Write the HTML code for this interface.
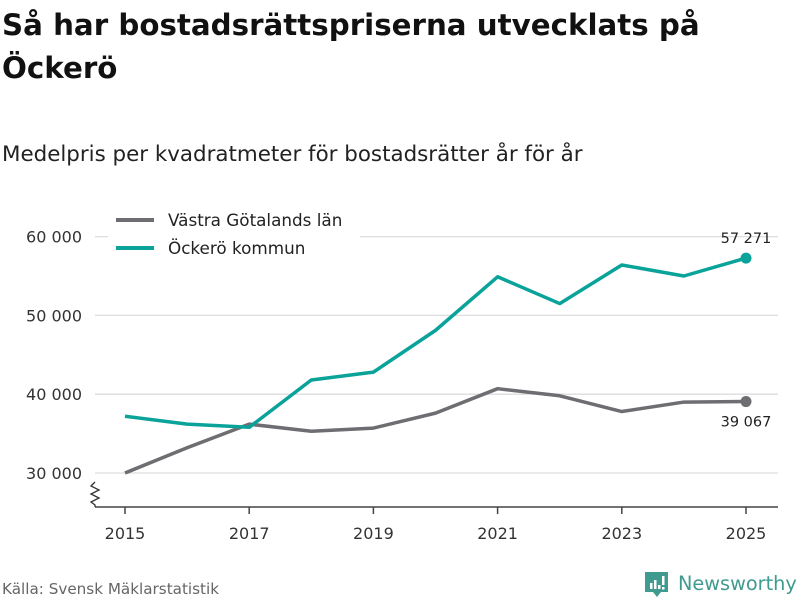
<!DOCTYPE html>
<html><head><meta charset="utf-8"><style>
body{margin:0;width:800px;height:600px;background:#fff;font-family:"Liberation Sans","DejaVu Sans",sans-serif;overflow:hidden}
</style></head><body>
<svg width="800" height="600" xmlns="http://www.w3.org/2000/svg" font-family="'DejaVu Sans','Liberation Sans',sans-serif">
<text x="2" y="35" font-size="29.3" font-weight="bold" fill="#111">Så har bostadsrättspriserna utvecklats på</text>
<text x="2" y="78" font-size="29.3" font-weight="bold" fill="#111">Öckerö</text>
<text x="2" y="161" font-size="21.4" fill="#222">Medelpris per kvadratmeter för bostadsrätter år för år</text>
<g id="grid"></g>
<line x1="95" y1="507" x2="778" y2="507" stroke="#444" stroke-width="1.5"/>
<path d="M95 482 l-4 4 l8 4 l-8 4 l8 4 l-8 4 l4 3 v2" fill="none" stroke="#333" stroke-width="1.3"/>
<g id="series"></g>
<rect x="108" y="205" width="252" height="60" fill="#fff"/>
<line x1="116" y1="220" x2="154" y2="220" stroke="#6e6d72" stroke-width="4"/>
<text x="168" y="226" font-size="16.8" fill="#222">Västra Götalands län</text>
<line x1="116" y1="248" x2="154" y2="248" stroke="#0aa39a" stroke-width="4"/>
<text x="168" y="254" font-size="16.8" fill="#222">Öckerö kommun</text>
<text x="2" y="594" font-size="15.2" fill="#666">Källa: Svensk Mäklarstatistik</text>
<g>
<path d="M645 572 h23 v20 h-7 l-4 5 l-4 -5 h-8 z" fill="#3f9b8f"/>
<rect x="650" y="583" width="2.5" height="6" fill="#fff"/><rect x="654" y="580" width="2.5" height="9" fill="#fff"/><rect x="658" y="585" width="2.5" height="4" fill="#fff"/><rect x="662" y="576" width="2.5" height="9" fill="#fff"/><rect x="662" y="587" width="2.5" height="2.5" fill="#fff"/>
<text x="678" y="590" font-size="19.3" fill="#3f9b8f" font-weight="500">Newsworthy</text>
</g>
</svg>
<script>
const years=[2015,2016,2017,2018,2019,2020,2021,2022,2023,2024,2025];
const vastra=[30000,33200,36200,35300,35700,37600,40700,39800,37800,39000,39067];
const ockero=[37200,36200,35800,41800,42800,48100,54900,51500,56400,55000,57271];
const yTicks=[30000,40000,50000,60000];
const yTickLabels=["30 000","40 000","50 000","60 000"];
const xTicks=[2015,2017,2019,2021,2023,2025];
const NS="http://www.w3.org/2000/svg";
const x=v=>125+(v-2015)*62.1;
const y=v=>473-(v-30000)*0.00788;
function mk(tag,attrs,parent,text){const e=document.createElementNS(NS,tag);for(const k in attrs)e.setAttribute(k,attrs[k]);if(text!=null)e.textContent=text;parent.appendChild(e);return e;}
const grid=document.getElementById('grid'),ser=document.getElementById('series');
yTicks.forEach((t,i)=>{
 const l=mk('line',{x1:95,x2:778,y1:y(t),y2:y(t),stroke:'#ddd','stroke-width':1.3},grid);
 
 
 const tx=mk('text',{x:82,y:y(t)+6,'font-size':16,fill:'#333','text-anchor':'end'},grid,yTickLabels[i]);
 
 
});
xTicks.forEach(t=>{
 const l=mk('line',{x1:x(t),x2:x(t),y1:507,y2:514,stroke:'#444','stroke-width':1.5},grid);
 
 
 const tx=mk('text',{x:x(t),y:539,'font-size':16,fill:'#333','text-anchor':'middle'},grid,String(t));
 
 
});
function line(vals,color,name){
 const p=mk('polyline',{points:vals.map((v,i)=>x(years[i])+','+y(v)).join(' '),fill:'none',stroke:color,'stroke-width':3.5,'stroke-linejoin':'round'},ser);
 
 
 const n=vals.length-1;
 const c=mk('circle',{cx:x(years[n]),cy:y(vals[n]),r:5.5,fill:color},ser);
 
 
}
line(vastra,'#6e6d72','vastra');
line(ockero,'#0aa39a','ockero');
const fmt=v=>String(v).replace(/\B(?=(\d{3})+$)/g,' ');
const n=years.length-1;
const a=mk('text',{x:x(years[n]),y:y(ockero[n])-15,'font-size':14.5,fill:'#222','text-anchor':'middle'},ser,fmt(ockero[n]));


const b=mk('text',{x:x(years[n]),y:y(vastra[n])+25,'font-size':14.5,fill:'#222','text-anchor':'middle'},ser,fmt(vastra[n]));


</script>
</body></html>
